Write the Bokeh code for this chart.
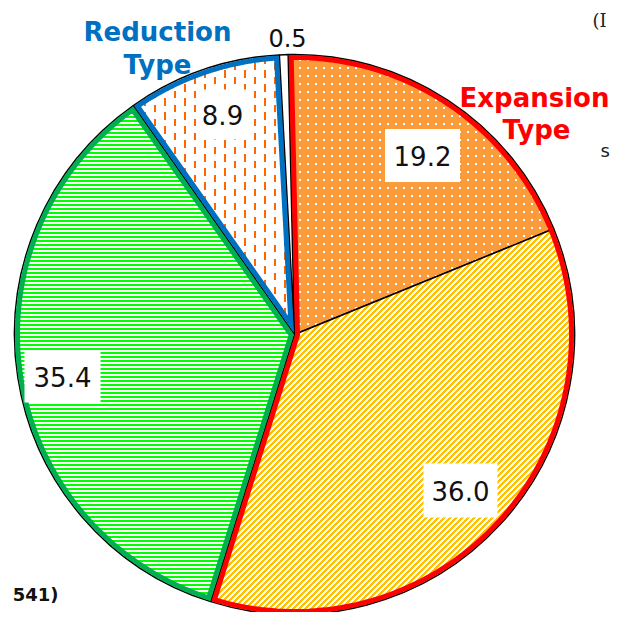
import math, zlib, struct, base64
from bokeh.plotting import figure
from bokeh.models import Range1d, ImageURLTexture
from bokeh.embed import file_html
from bokeh.resources import INLINE
from bokeh.core.properties import value

# ---- data ----
categories = ["Expansion A", "Expansion B", "Other", "Reduction", "No answer"]
shares = [19.2, 36.0, 35.4, 8.9, 0.5]
labels = ["19.2", "36.0", "35.4", "8.9", "0.5"]

# ---- pattern textures ----
def png_rgba(w, h, pix):
    raw = b""
    for yy in range(h):
        raw += b"\x00" + b"".join(bytes(pix(xx, yy)) for xx in range(w))
    def chunk(t, d):
        c = struct.pack(">I", len(d)) + t + d
        return c + struct.pack(">I", zlib.crc32(t + d) & 0xffffffff)
    data = (b"\x89PNG\r\n\x1a\n" + chunk(b"IHDR", struct.pack(">IIBBBBB", w, h, 8, 6, 0, 0, 0))
            + chunk(b"IDAT", zlib.compress(raw)) + chunk(b"IEND", b""))
    return "data:image/png;base64," + base64.b64encode(data).decode()

CLEAR = (0, 0, 0, 0)

def dot_pix(x, y):
    return (255, 255, 255, 255) if (x in (3, 4) and y in (3, 4)) else CLEAR

def dash_pix(x, y):
    if x in (4, 5) and 0 <= y < 8:
        return (255, 102, 0, 255)
    if x in (14, 15) and 7 <= y < 15:
        return (255, 102, 0, 255)
    return CLEAR

def diag_pix(x, y):
    return (255, 192, 0, 255) if (x + y) % 6 in (0, 1, 2) else CLEAR

def hline_pix(x, y):
    return (0, 255, 0, 255) if y % 4 in (0, 1) else CLEAR

textures = {
    "odots": ImageURLTexture(url=png_rgba(8, 8, dot_pix), repetition="repeat"),
    "vdash": ImageURLTexture(url=png_rgba(20, 14, dash_pix), repetition="repeat"),
    "ydiag": ImageURLTexture(url=png_rgba(6, 6, diag_pix), repetition="repeat"),
    "ghline": ImageURLTexture(url=png_rgba(4, 4, hline_pix), repetition="repeat"),
}

# ---- style ----
fill_colors = ["#FA9B3C", "white", "white", "white", "white"]
hatch_patterns = [value("odots"), value("ydiag"), value("ghline"), value("vdash"), " "]

W = H = 612
p = figure(width=W, height=H, output_backend="svg", toolbar_location=None,
           x_range=Range1d(0, 612), y_range=Range1d(8, 620), min_border=0)
p.axis.visible = False
p.grid.visible = False
p.outline_line_color = None
p.background_fill_color = "white"

def Y(py):
    return 620 - py

CX, CY, R = 294, Y(334), 280
START = 91.3  # degrees, clockwise from here

bounds = [START]
for s in shares:
    bounds.append(bounds[-1] - s * 3.6)

for i in range(len(shares)):
    hi, lo = bounds[i], bounds[i + 1]
    p.wedge(x=CX, y=CY, radius=R, start_angle=math.radians(lo), end_angle=math.radians(hi),
            fill_color=fill_colors[i], hatch_pattern=hatch_patterns[i],
            hatch_extra=textures, line_color="black", line_width=1.5)

def inset_outline(lo, hi, d):
    span = math.radians(hi - lo)
    bis = math.radians((hi + lo) / 2)
    t = d / math.sin(span / 2)
    ax = CX + t * math.cos(bis)
    ay = CY + t * math.sin(bis)
    rr = R - d
    delta = d / rr
    a0 = math.radians(lo) + delta
    a1 = math.radians(hi) - delta
    n = 120
    xs = [ax]
    ys = [ay]
    for k in range(n + 1):
        a = a0 + (a1 - a0) * k / n
        xs.append(CX + rr * math.cos(a))
        ys.append(CY + rr * math.sin(a))
    xs.append(ax)
    ys.append(ay)
    return xs, ys

groups = [(bounds[2], bounds[0], "#FF0000"),   # Expansion type
          (bounds[3], bounds[2], "#00B050"),
          (bounds[4], bounds[3], "#0070C0")]   # Reduction type
for lo, hi, col in groups:
    xs, ys = inset_outline(lo, hi, 3)
    p.patch(xs, ys, fill_alpha=0, line_color=col, line_width=5, line_join="miter")

# value labels with white boxes
box_pos = [(422, 155, 75, 53), (460, 490, 74, 54), (62, 376, 76, 52), (222, 114, 52, 50)]
for i, (bx, by, bw, bh) in enumerate(box_pos):
    p.rect(x=bx, y=Y(by), width=bw, height=bh, fill_color="white", line_color=None)
    p.text(x=bx, y=Y(by), text=[labels[i]], text_align="center", text_baseline="middle",
           text_font=value("DejaVu Sans"), text_font_size="26px", text_color="#111111")
p.text(x=287, y=Y(37), text=[labels[4]], text_align="center", text_baseline="middle",
       text_font=value("DejaVu Sans"), text_font_size="24px", text_color="#111111")

# group titles
for txt, tx, ty, col in [("Reduction", 157, 31, "#0070C0"), ("Type", 157, 64, "#0070C0"),
                         ("Expansion", 534, 97, "#FF0000"), ("Type", 536, 129, "#FF0000")]:
    p.text(x=tx, y=Y(ty), text=[txt], text_align="center", text_baseline="alphabetic",
           text_font=value("DejaVu Sans"), text_font_size="26px", text_font_style="bold",
           text_color=col)

# surrounding texts (partly outside the reference crop)
p.text(x=592, y=Y(20), text=["(I"], text_align="left", text_baseline="alphabetic",
       text_font=value("DejaVu Serif"), text_font_size="18px", text_color="#222222")
p.text(x=600, y=Y(150), text=["s"], text_align="left", text_baseline="alphabetic",
       text_font=value("DejaVu Sans"), text_font_size="18px", text_color="#222222")
p.text(x=58, y=Y(594), text=["541)"], text_align="right", text_baseline="alphabetic",
       text_font=value("DejaVu Sans"), text_font_size="18px", text_font_style="bold",
       text_color="#111111")

open("out.html", "w").write(file_html(p, INLINE))
